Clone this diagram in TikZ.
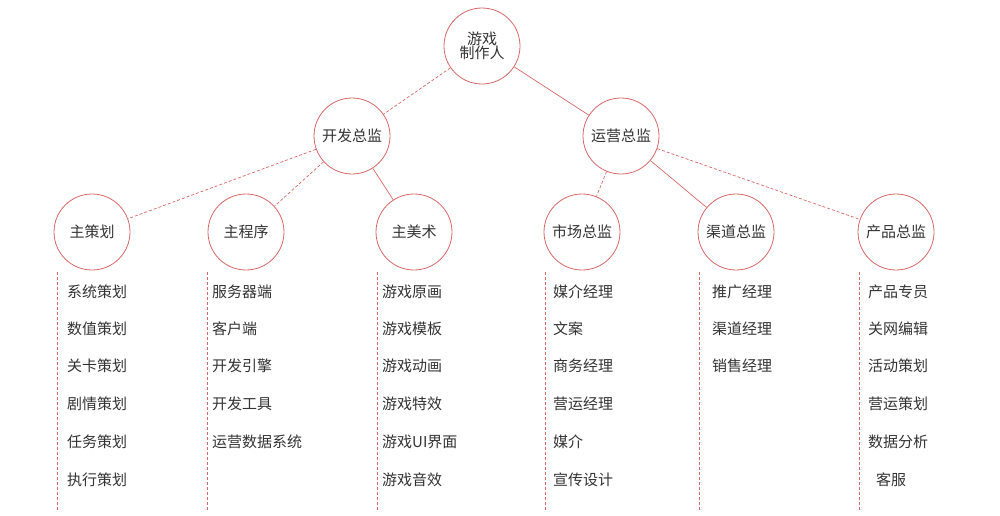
\documentclass[tikz,border=0pt]{standalone}
\usepackage{fontspec}
\setmainfont{Noto Sans CJK SC}
\definecolor{lc}{RGB}{214,104,104}
\definecolor{tc}{RGB}{51,51,51}
\begin{document}
\begin{tikzpicture}[x=1pt,y=-1pt,
  circ/.style={circle,draw=lc,line width=0.8pt,minimum size=76pt,inner sep=0pt,text=tc,font=\fontsize{15}{17}\selectfont,align=center},
  dl/.style={draw=lc,line width=0.7pt,dash pattern=on 3pt off 2pt},
  sl/.style={draw=lc,line width=0.7pt},
  item/.style={anchor=west,text=tc,font=\fontsize{15}{17}\selectfont,inner sep=0pt}]
\useasboundingbox (0,0) rectangle (1000,515);
\node[circ] (root) at (482,46) {游戏\\[-3pt]制作人};
\node[circ] (dev) at (352,136) {开发总监};
\node[circ] (ops) at (621,136) {运营总监};
\node[circ] (a) at (92,232) {主策划};
\node[circ] (b) at (246,232) {主程序};
\node[circ] (c) at (414,232) {主美术};
\node[circ] (d) at (582,232) {市场总监};
\node[circ] (e) at (736,232) {渠道总监};
\node[circ] (f) at (896,232) {产品总监};
\draw[dl] (root) -- (dev);
\draw[sl] (root) -- (ops);
\draw[dl] (dev) -- (a);
\draw[dl] (dev) -- (b);
\draw[sl] (dev) -- (c);
\draw[dl] (ops) -- (d);
\draw[sl] (ops) -- (e);
\draw[dl] (ops) -- (f);
\foreach \n/\x in {va/57,vb/207,vc/377,vd/545,ve/699,vf/859}{
  \coordinate (\n1) at (\x,272); \coordinate (\n2) at (\x,510);
  \draw[dl] (\n1) -- (\n2);}
\def\ys{292,329,366,404,442,480}
\foreach \x/\lst in {67/{系统策划,数值策划,关卡策划,剧情策划,任务策划,执行策划},
  212/{服务器端,客户端,开发引擎,开发工具,运营数据系统},
  382/{游戏原画,游戏模板,游戏动画,游戏特效,游戏UI界面,游戏音效},
  553/{媒介经理,文案,商务经理,营运经理,媒介,宣传设计},
  712/{推广经理,渠道经理,销售经理},
  868/{产品专员,关网编辑,活动策划,营运策划,数据分析}}{
  \foreach \t [count=\i] in \lst {
    \pgfmathsetmacro\yy{{292,329,366,404,442,480}[\i-1]}
    \node[item] (t\x-\i) at (\x,\yy) {\t};}}
\node[item] (kf) at (876,480) {客服};
\end{tikzpicture}
\end{document}
